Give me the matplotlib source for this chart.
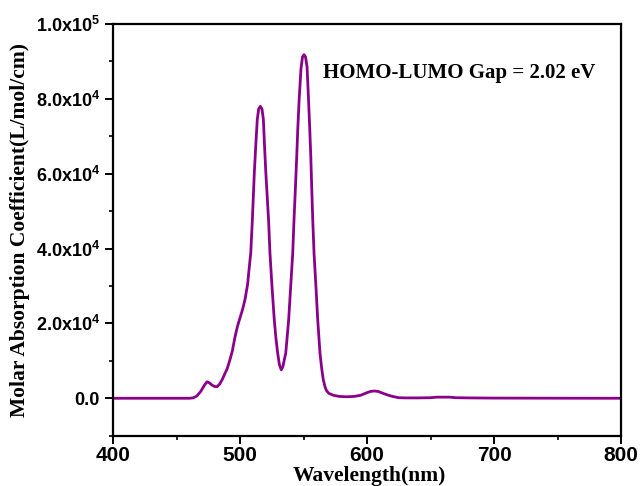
import numpy as np
import matplotlib.pyplot as plt
from matplotlib.ticker import MultipleLocator, FuncFormatter

plt.rcParams['mathtext.fontset'] = 'custom'
plt.rcParams['mathtext.rm'] = 'Liberation Sans:bold'
plt.rcParams['mathtext.bf'] = 'Liberation Sans:bold'

# wavelength (nm) and molar absorption coefficient
wavelength = [400, 450, 460, 463, 466, 469, 472, 474, 476, 478, 480, 482, 484,
              486, 488, 490, 492, 494, 496, 498, 500, 502, 504, 506, 507, 508.5,
              509.7, 510.5, 511.3, 512.4, 513.6, 514.7, 516.0, 517.3, 518.4,
              519.3, 520.3, 521.4, 522.5, 523.6, 525.2, 527, 528.3, 529.7,
              531, 532.5, 533.8, 535, 536, 538.3, 539.9, 541.5, 542.5, 543.6,
              544.6, 545.5, 546.6, 548.0, 549.2, 550.4, 551.6, 552.8, 553.8,
              554.8, 555.7, 556.5, 557.3, 558.3, 559.8, 561.2, 563, 564.3, 565.6,
              567, 568.2, 570, 573.5, 578, 584, 590, 595, 600, 603, 606, 609, 612,
              616, 620, 625, 630, 640, 650, 655, 665, 670, 680, 700, 750, 800]
absorption = [0, 0, 0, 100, 600, 1800, 3500, 4400, 4100, 3500, 3150, 3100, 3800,
              5000, 6500, 8000, 10200, 12700, 16300, 19200, 21500, 23700, 26500,
              30500, 34000, 39000,
              47500, 54000, 60500, 67500, 74500, 77300, 78000, 77300, 74500,
              67500, 60500, 54000, 47500, 38700, 29800, 20900, 16000, 12000,
              9000, 7600, 8500, 10500, 12000, 20900, 29800, 38700, 47500, 56000,
              64000, 72000, 80000, 88000, 91200, 91800, 91200, 88500, 81000,
              73000, 65000, 56000, 47500, 38700, 29800, 20900, 12000, 8000, 4900,
              3000, 2000, 1300, 800, 500, 400, 500, 800, 1500, 1850, 1950, 1800,
              1400, 900, 500, 150, 100, 100, 150, 300, 300, 150, 100, 50, 20, 0]

gap_text = "HOMO-LUMO Gap = 2.02 eV"


def y_label(v, pos):
    if abs(v) < 1:
        return "0.0"
    exp = int(np.floor(np.log10(abs(v))))
    mant = v / 10 ** exp
    return "%.1fx10$^{%d}$" % (mant, exp)


fig = plt.figure(figsize=(6.41, 4.86), dpi=100)
ax = fig.add_axes([0.1763, 0.1035, 0.7925, 0.8471])

ax.plot(wavelength, absorption, color="#8B008B", lw=2.0)

ax.set_xlim(400, 800)
ax.set_ylim(-10000, 100000)
ax.xaxis.set_major_locator(MultipleLocator(100))
ax.xaxis.set_minor_locator(MultipleLocator(50))
ax.yaxis.set_major_locator(MultipleLocator(20000))
ax.yaxis.set_minor_locator(MultipleLocator(10000))
ax.yaxis.set_major_formatter(FuncFormatter(y_label))

for sp in ax.spines.values():
    sp.set_linewidth(1.6)
ax.tick_params(which="major", direction="out", length=6, width=1.4)
ax.tick_params(which="minor", direction="out", length=3, width=1.2)
ax.tick_params(axis="x", pad=1.5)
for lab in ax.get_xticklabels():
    lab.set_fontfamily("Liberation Sans")
    lab.set_fontweight("bold")
    lab.set_fontsize(15)
for lab in ax.get_yticklabels():
    lab.set_fontfamily("Liberation Sans")
    lab.set_fontweight("bold")
    lab.set_fontsize(13)

ax.set_xlabel("Wavelength(nm)", family="Liberation Serif", weight="bold",
              fontsize=15.5, va="baseline")
ax.xaxis.set_label_coords(0.5043, -0.110)
ax.set_ylabel("Molar Absorption Coefficient(L/mol/cm)", family="Liberation Serif",
              weight="bold", fontsize=15.5, labelpad=4)

ax.text(565.5, 87000, gap_text, family="Liberation Serif", weight="bold",
        fontsize=15, ha="left", va="center")

fig.savefig("out.png", dpi=100)
